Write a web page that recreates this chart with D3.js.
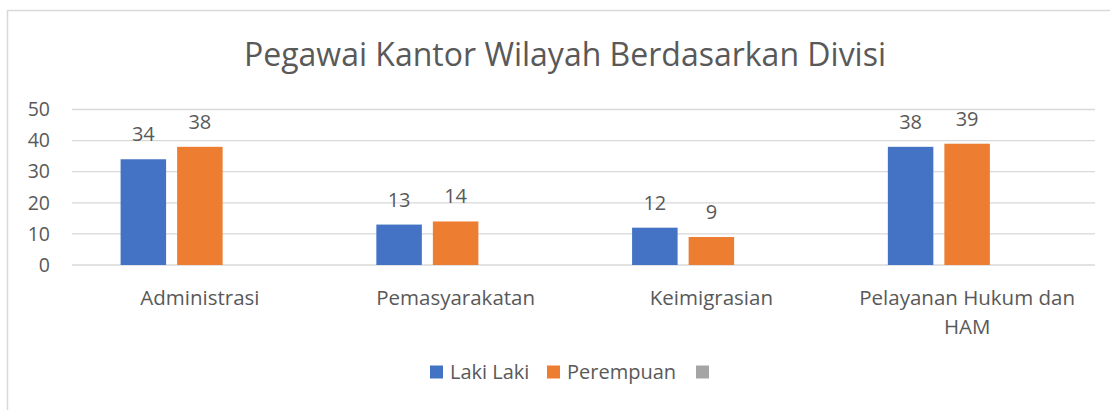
<!DOCTYPE html>
<html>
<head>
<meta charset="utf-8">
<script src="https://cdn.jsdelivr.net/npm/d3@7"></script>
<style>
  body { margin: 0; background: #fff; }
  text { font-family: "Open Sans", sans-serif; fill: #595959; }
</style>
</head>
<body>
<div id="container"></div>
<script>
// data
const categories = ["Administrasi", "Pemasyarakatan", "Keimigrasian", "Pelayanan Hukum dan HAM"];
const seriesNames = ["Laki Laki", "Perempuan", ""];
const lakiLaki = [34, 13, 12, 38];
const perempuan = [38, 14, 9, 39];
const kosong = [null, null, null, null];
const yTicks = [0, 10, 20, 30, 40, 50];
const colors = ["#4472C4", "#ED7D31", "#A5A5A5"];

const W = 1110, H = 410;
const margin = {top: 109.5, right: 15, bottom: 145, left: 72};
const width = W - margin.left - margin.right;
const height = H - margin.top - margin.bottom;

const series = [lakiLaki, perempuan, kosong];

const svg = d3.select("#container")
  .append("svg")
  .attr("width", W)
  .attr("height", H);

// chart border (only left/top visible, rest cropped)
svg.append("rect")
  .attr("x", 7.5).attr("y", 10.5)
  .attr("width", W + 20).attr("height", H + 20)
  .attr("fill", "none")
  .attr("stroke", "#D9D9D9")
  .attr("stroke-width", 1.5);

const g = svg.append("g")
  .attr("transform", "translate(" + margin.left + "," + margin.top + ")");

/* SCALES */
const x0 = d3.scaleBand()
  .domain(categories)
  .range([0, width])
  .paddingInner(0.38)
  .paddingOuter(0.19);

const x1 = d3.scaleBand()
  .domain(d3.range(series.length))
  .range([0, x0.bandwidth()])
  .paddingInner(0.195);

const y = d3.scaleLinear()
  .domain([0, 50])
  .range([height, 0]);

// gridlines
g.append("g")
  .selectAll("line")
  .data(yTicks)
  .join("line")
  .attr("x1", 0).attr("x2", width)
  .attr("y1", d => y(d)).attr("y2", d => y(d))
  .attr("stroke", "#D9D9D9")
  .attr("stroke-width", 1.3);

// y axis labels
const yAxis = g.append("g")
  .call(d3.axisLeft(y).tickValues(yTicks).tickSize(0).tickPadding(22));
yAxis.select(".domain").remove();
yAxis.selectAll("text")
  .style("font-family", "Open Sans, sans-serif")
  .style("font-size", "19.5px")
  .attr("fill", "#595959");

/* BARS */
const groups = g.append("g")
  .selectAll("g")
  .data(categories)
  .join("g")
  .attr("transform", d => "translate(" + x0(d) + ",0)");

groups.selectAll("rect")
  .data((c, i) => series.map((s, k) => ({k: k, v: s[i]})).filter(d => d.v != null))
  .join("rect")
  .attr("x", d => x1(d.k))
  .attr("width", x1.bandwidth())
  .attr("y", d => y(d.v))
  .attr("height", d => y(0) - y(d.v))
  .attr("fill", d => colors[d.k]);

groups.selectAll("text.lbl")
  .data((c, i) => series.map((s, k) => ({k: k, v: s[i]})).filter(d => d.v != null))
  .join("text")
  .attr("class", "lbl")
  .attr("x", d => x1(d.k) + x1.bandwidth() / 2)
  .attr("y", d => y(d.v) - 18)
  .attr("text-anchor", "middle")
  .style("font-size", "20px")
  .text(d => d.v);

/* CATEGORY LABELS */
const xAxis = g.append("g")
  .attr("transform", "translate(0," + height + ")")
  .call(d3.axisBottom(x0).tickSize(0).tickPadding(0));
xAxis.select(".domain").remove();
xAxis.selectAll("text")
  .style("font-family", "Open Sans, sans-serif")
  .style("font-size", "20.5px")
  .attr("fill", "#595959")
  .attr("dy", null)
  .attr("y", 40)
  .each(function() {
    const t = d3.select(this);
    const words = t.text().split(" ");
    t.text(null);
    let line = [];
    let lineNo = 0;
    let ts = t.append("tspan").attr("x", 0).attr("y", 40);
    words.forEach(w => {
      line.push(w);
      ts.text(line.join(" "));
      if (ts.node().getComputedTextLength() > 230 && line.length > 1) {
        line.pop();
        ts.text(line.join(" "));
        line = [w];
        lineNo++;
        ts = t.append("tspan").attr("x", 0).attr("y", 40 + lineNo * 29).text(w);
      }
    });
  });

/* TITLE */
svg.append("text")
  .attr("x", 565)
  .attr("y", 66)
  .attr("text-anchor", "middle")
  .style("font-size", "32px")
  .text("Pegawai Kantor Wilayah Berdasarkan Divisi");

/* LEGEND */
const legend = svg.append("g").attr("transform", "translate(0,372)");
const legendX = [430, 547, 696];
seriesNames.forEach((name, i) => {
  legend.append("rect")
    .attr("x", legendX[i]).attr("y", -6.5)
    .attr("width", 13).attr("height", 13)
    .attr("fill", colors[i]);
  legend.append("text")
    .attr("x", legendX[i] + 20)
    .attr("y", 0)
    .attr("dy", "0.35em")
    .style("font-size", "20px")
    .text(name);
});
</script>
</body>
</html>
